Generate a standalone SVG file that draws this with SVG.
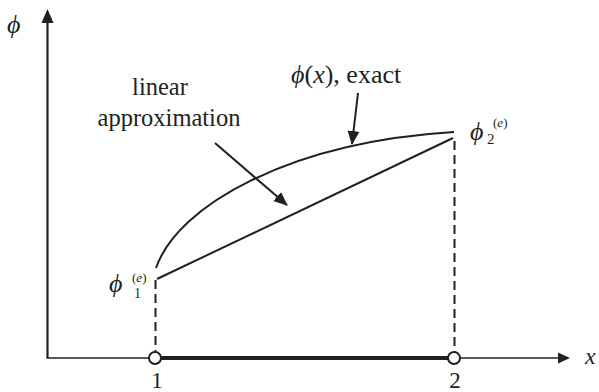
<svg xmlns="http://www.w3.org/2000/svg" width="599" height="392" viewBox="0 0 599 392">
<defs>
<marker id="ah2" markerWidth="14" markerHeight="14" refX="13" refY="7" orient="auto" markerUnits="userSpaceOnUse" viewBox="0 0 14 14">
<path d="M0,1 L14,7 L0,13 Z" fill="#231f20"/>
</marker>
</defs>
<rect width="599" height="392" fill="#fff"/>
<g id="axes" stroke="#231f20" fill="none">
<path d="M47.5,358 L47.5,20" stroke-width="2.2"/>
<path d="M41.5,23 L47.5,9 L53.5,23 Z" fill="#231f20" stroke="none"/>
<path d="M46.5,358 L560,358" stroke-width="1.6"/>
<path d="M558,352.5 L570,358 L558,363.5 Z" fill="#231f20" stroke="none"/>
</g>
<g id="axis-labels" font-family="Liberation Serif" fill="#231f20" font-style="italic">
<text x="7" y="33" font-size="26">ϕ</text>
<text x="585" y="364" font-size="24">x</text>
</g>
<g id="element">
<path d="M155,358 L454,358" stroke="#231f20" stroke-width="4.2"/>
</g>
<g id="connectors" stroke="#231f20" fill="none" stroke-width="2">
<path d="M155.5,280 L155.5,352" stroke-dasharray="9,5"/>
<path d="M454.5,141 L454.5,352" stroke-dasharray="9,5"/>
<path d="M157,279 L453,138"/>
<path d="M156,268 C178,205 290,142 454,132"/>
<path d="M215,143 L287,205" marker-end="url(#ah2)"/>
<path d="M358,93 L352,144" marker-end="url(#ah2)"/>
</g>
<g id="node1" font-family="Liberation Serif" fill="#231f20">
<circle cx="155" cy="358" r="6" fill="#fff" stroke="#231f20" stroke-width="2"/>
<text x="157" y="388" font-size="23" text-anchor="middle">1</text>
</g>
<g id="node2" font-family="Liberation Serif" fill="#231f20">
<circle cx="454" cy="358" r="6" fill="#fff" stroke="#231f20" stroke-width="2"/>
<text x="455" y="388" font-size="23" text-anchor="middle">2</text>
</g>
<g id="phi1" font-family="Liberation Serif" fill="#231f20">
<text font-style="italic" x="109" y="292" font-size="26">ϕ</text>
<text x="134" y="298" font-size="14">1</text>
<text x="132" y="282" font-size="13">(<tspan font-style="italic">e</tspan>)</text>
</g>
<g id="phi2" font-family="Liberation Serif" fill="#231f20">
<text font-style="italic" x="470" y="140" font-size="26">ϕ</text>
<text x="487" y="144" font-size="15">2</text>
<text x="493" y="127" font-size="13">(<tspan font-style="italic">e</tspan>)</text>
</g>
<g id="label-linear" font-family="Liberation Serif" fill="#231f20" font-size="24.5" text-anchor="middle">
<text x="160" y="95">linear</text>
<text x="169" y="126">approximation</text>
</g>
<g id="label-exact" font-family="Liberation Serif" fill="#231f20" font-size="26">
<text x="291" y="83"><tspan font-style="italic">ϕ</tspan>(<tspan font-style="italic">x</tspan>), exact</text>
</g>
</svg>
